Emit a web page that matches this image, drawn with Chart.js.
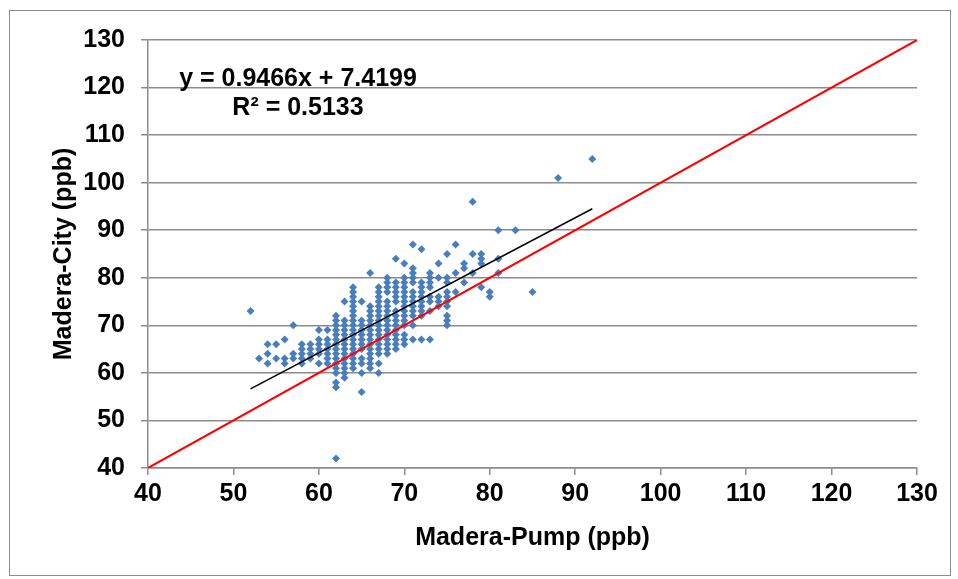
<!DOCTYPE html>
<html>
<head>
<meta charset="utf-8">
<script src="https://cdn.jsdelivr.net/npm/chart.js@4"></script>
<style>
  body { margin: 0; background: #fff; }
  #wrap { position: relative; width: 958px; height: 579px; }
  #frame { position: absolute; left: 9px; top: 10px; width: 940px; height: 564px; border: 1px solid #8c8c8c; pointer-events: none; }
</style>
</head>
<body>
<div id="wrap">
  <canvas id="chartMadera" width="958" height="579"></canvas>
  <div id="frame"></div>
</div>
<script>
// Madera pump vs city readings (ppb), grouped by pump value
const pumpLevels = [52, 53, 54, 55, 56, 57, 58, 59, 60, 61, 62, 63, 64, 65, 66, 67, 68, 69, 70, 71, 72, 73, 74, 75, 76, 77, 78, 79, 80, 81, 83, 85, 88, 92];
const cityByPump = [
  [73],
  [63],
  [66, 64, 62],
  [66, 63],
  [67, 63, 62],
  [70, 64, 63],
  [66, 65, 64, 63, 62],
  [66, 65, 64, 63],
  [69, 67, 66, 65, 64, 62],
  [69, 67, 66, 65, 64, 63, 62],
  [72, 71, 70, 69, 68, 67, 66, 65, 64, 63, 62, 61, 60, 58, 57, 42],
  [75, 71, 70, 69, 68, 67, 66, 65, 64, 63, 62, 61, 60, 59],
  [78, 77, 76, 75, 74, 73, 72, 71, 70, 69, 68, 67, 66, 65, 64, 63, 62, 61],
  [75, 71, 70, 69, 68, 67, 66, 65, 63, 62, 60, 56],
  [81, 74, 73, 72, 71, 70, 69, 68, 67, 66, 65, 64, 63, 62, 61],
  [78, 77, 76, 75, 74, 73, 72, 71, 70, 69, 68, 67, 66, 65, 64, 62, 60],
  [80, 79, 78, 77, 75, 74, 73, 72, 71, 70, 69, 68, 67, 66, 65, 64],
  [84, 79, 78, 77, 76, 75, 73, 72, 71, 70, 69, 68, 67, 66, 65],
  [83, 80, 79, 78, 77, 76, 75, 74, 73, 72, 71, 70, 68, 67, 66],
  [87, 82, 81, 80, 79, 77, 76, 75, 74, 73, 72, 70, 67],
  [86, 79, 78, 77, 76, 75, 74, 73, 72, 67],
  [81, 80, 79, 78, 76, 75, 73, 67],
  [83, 80, 76, 75, 74],
  [85, 80, 79, 77, 76, 75, 74, 72, 71, 70],
  [87, 81, 77],
  [83, 82, 79],
  [96, 85, 81],
  [85, 84, 83, 78],
  [77, 76],
  [90, 84, 81],
  [90],
  [77],
  [101],
  [105]
];

// linear trend fitted in the workbook
const trendSlope = 0.9466;
const trendIntercept = 7.4199;
const trendR2 = 0.5133;
const trendRange = [52, 92];

// 1:1 reference line
const oneToOne = [40, 130];

const axisMin = 40;
const axisMax = 130;
const axisStep = 10;

const points = [];
pumpLevels.forEach((pump, i) => {
  cityByPump[i].forEach(city => points.push({ x: pump, y: city }));
});

const trendPoints = trendRange.map(x => ({ x: x, y: trendSlope * x + trendIntercept }));
const refPoints = oneToOne.map(v => ({ x: v, y: v }));

const boldFont = { family: '"Liberation Sans", Arial, sans-serif', size: 25, weight: 'bold' };

// equation and R² printed in the upper left of the plot
const equationLabel = {
  id: 'equationLabel',
  afterDatasetsDraw(chart) {
    const { ctx, chartArea } = chart;
    ctx.save();
    ctx.fillStyle = '#000';
    ctx.font = 'bold 25px "Liberation Sans", Arial, sans-serif';
    ctx.textAlign = 'center';
    ctx.textBaseline = 'middle';
    ctx.fillText('y = ' + trendSlope.toFixed(4) + 'x + ' + trendIntercept.toFixed(4), chartArea.left + 150, chartArea.top + 39);
    ctx.fillText('R² = ' + trendR2.toFixed(4), chartArea.left + 150, chartArea.top + 68);
    ctx.restore();
  }
};

const ctxMadera = document.getElementById('chartMadera');

new Chart(ctxMadera, {
  type: 'scatter',
  data: {
    datasets: [
      {
        type: 'line',
        label: 'Trend',
        data: trendPoints,
        borderColor: '#000',
        borderWidth: 1.5,
        pointRadius: 0,
        fill: false
      }, {
        type: 'line',
        label: '1:1',
        data: refPoints,
        borderColor: '#ff0000',
        borderWidth: 2,
        pointRadius: 0,
        fill: false
      }, {
        label: 'Madera',
        data: points,
        pointStyle: 'rectRot',
        pointRadius: 4,
        backgroundColor: '#4a7ebb',
        borderColor: '#4a7ebb',
        borderWidth: 0
      }]
  },
  options: {
    responsive: false,
    animation: false,
    layout: { padding: { top: 40, right: 41, left: 0, bottom: 0 } },
    plugins: {
      legend: { display: false },
      tooltip: { enabled: false }
    },
    scales: {
      x: {
        type: 'linear',
        min: axisMin,
        max: axisMax,
        afterFit: scale => { scale.height = 111; },
        ticks: { stepSize: axisStep, color: '#000', font: boldFont, padding: 4, maxRotation: 0 },
        grid: { drawOnChartArea: false, drawTicks: true, tickLength: 7, color: '#8c8c8c', lineWidth: 1.5 },
        border: { color: '#8c8c8c', width: 1.5 },
        title: { display: true, text: 'Madera-Pump (ppb)', color: '#000', font: boldFont, padding: { top: 0, bottom: 26 } }
      },
      y: {
        min: axisMin,
        max: axisMax,
        afterFit: scale => { scale.width = 148; },
        ticks: { stepSize: axisStep, color: '#000', font: boldFont, padding: 16 },
        grid: { tickLength: 7, color: '#8c8c8c', lineWidth: 1.5 },
        border: { color: '#8c8c8c', width: 1.5 },
        title: { display: true, text: 'Madera-City (ppb)', color: '#000', font: boldFont, padding: { top: 49, bottom: 0 } }
      }
    }
  },
  plugins: [equationLabel]
});
</script>
</body>
</html>
